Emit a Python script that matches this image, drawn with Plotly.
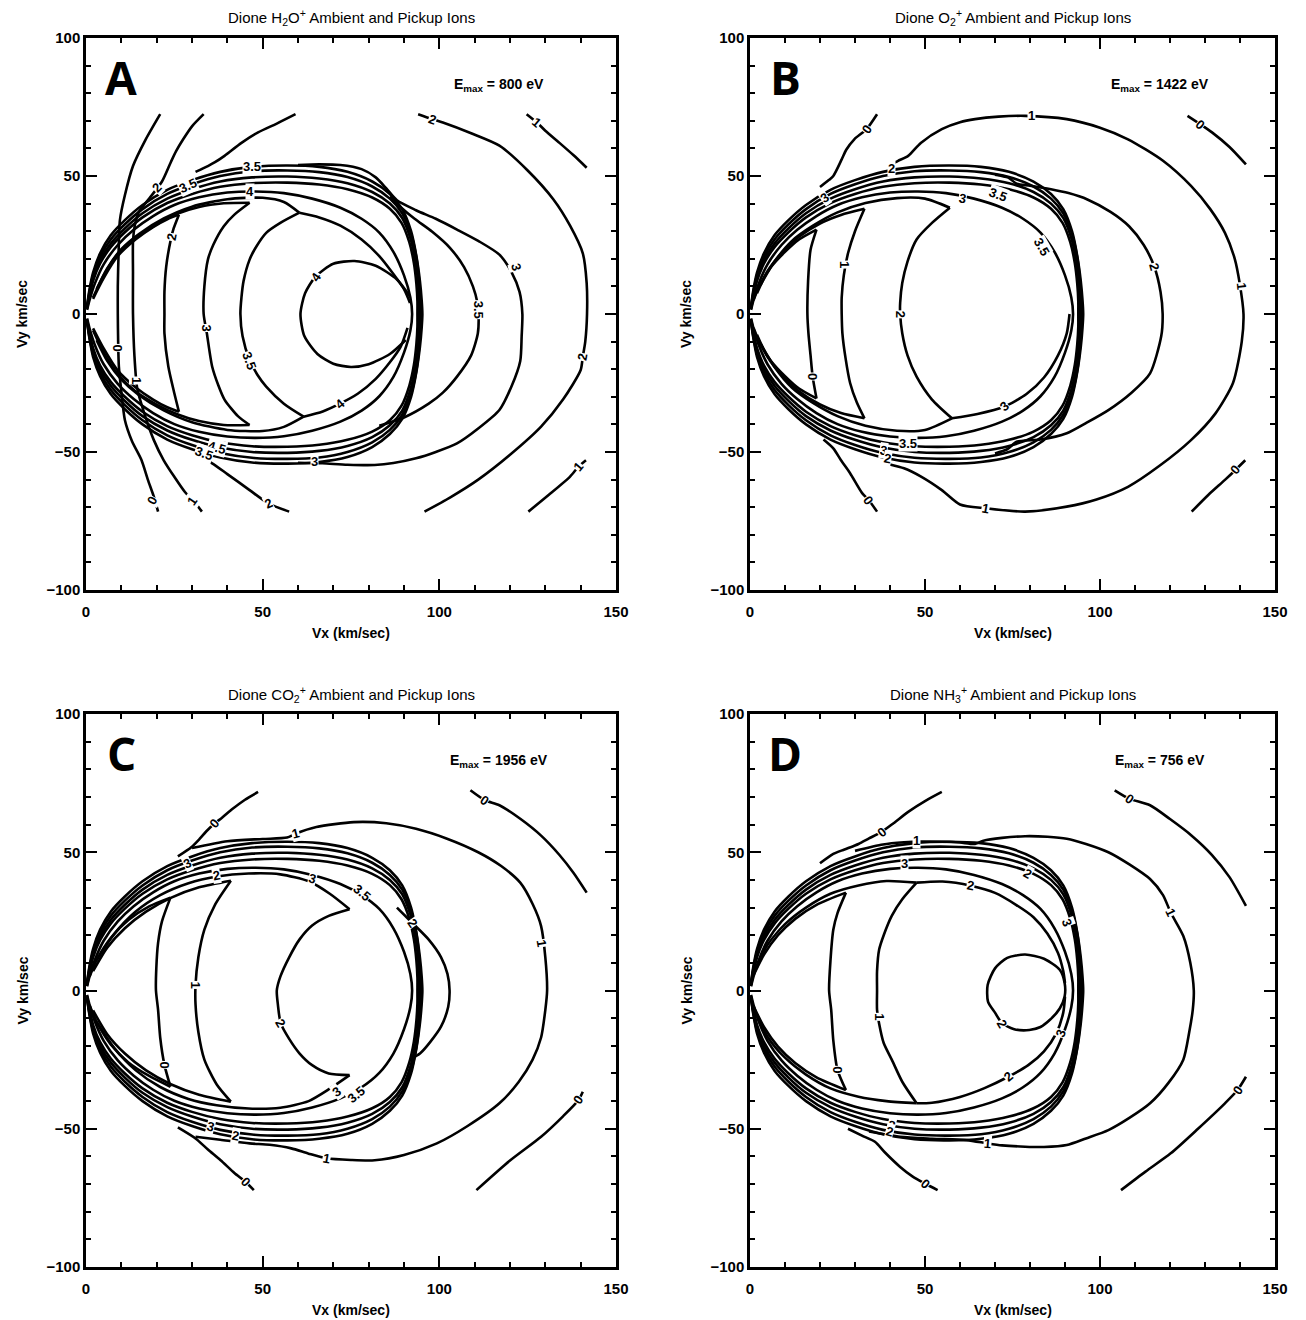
import plotly.graph_objects as go

# page is 1306x1320; the browser puts the plot 8 px in from the top-left corner
PAGE_W, PAGE_H = 1306, 1320
OFF = 8
W, H = PAGE_W - OFF, PAGE_H - OFF

# ---------------- text ----------------
PANEL_IDS = ["A", "B", "C", "D"]
TITLES = ["Dione H<sub>2</sub>O<sup>+</sup> Ambient and Pickup Ions",
          "Dione O<sub>2</sub><sup>+</sup> Ambient and Pickup Ions",
          "Dione CO<sub>2</sub><sup>+</sup> Ambient and Pickup Ions",
          "Dione NH<sub>3</sub><sup>+</sup> Ambient and Pickup Ions"]
EMAX = ["800", "1422", "1956", "756"]
X_TICKS = [0, 50, 100, 150]
Y_TICKS = [-100, -50, 0, 50, 100]

# ---------------- ring-band contours (alike in all panels) ----------------
RING_1 = [(0.3,3),(1,9),(2,15),(4,22),(7,28.5),(11,34),(16,39.5),(23,45),(30,48.5),(38,51.5),(47,53.3),(57,53.8),(66,53.3),(74,51.5),(81,48),(86,43.5),(89.5,38),(92,30),(93.5,21),(94.5,12),(95,5),(95.2,0),(95,-5),(94.5,-12),(93.5,-21),(92,-30),(89.5,-38),(86,-43.5),(81,-48.2),(74,-51.8),(66,-53.6),(57,-54.2),(47,-53.8),(38,-52),(30,-49),(23,-45.5),(16,-40),(11,-34.5),(7,-29),(4,-22.5),(2,-15.5),(1,-9),(0.3,-3)]
RING_2 = [(0.3,2.6),(1,8.2),(2,14),(4,20.8),(7,27),(11,32.5),(16,38),(23,43.5),(30,47),(38,50),(47,51.7),(57,52),(66,51.4),(74,49.6),(81,46.2),(86,41.8),(89.5,36.5),(92,29),(93.5,20.5),(94.3,12),(94.6,5),(94.7,0),(94.6,-5),(94.3,-12),(93.5,-20.5),(92,-29),(89.5,-36.5),(86,-42),(81,-46.5),(74,-50),(66,-52),(57,-52.5),(47,-52.1),(38,-50.4),(30,-47.5),(23,-44),(16,-38.5),(11,-33),(7,-27.5),(4,-21.3),(2,-14.5),(1,-8.5),(0.3,-2.8)]
RING_3 = [(0.3,2.2),(1,7.4),(2,13),(4,19.5),(7,25.5),(11,31),(16,36.5),(23,41.8),(30,45.2),(38,48),(47,49.5),(57,49.8),(66,49.1),(74,47.4),(81,44.2),(86,40),(89.5,34.8),(91.8,27.5),(93.2,19.5),(94,11.5),(94.3,4.8),(94.3,0),(94.3,-4.8),(94,-11.5),(93.2,-19.5),(91.8,-27.5),(89.5,-35),(86,-40.3),(81,-44.6),(74,-47.8),(66,-49.6),(57,-50.3),(47,-50),(38,-48.4),(30,-45.6),(23,-42.2),(16,-37),(11,-31.5),(7,-26),(4,-20),(2,-13.5),(1,-7.8),(0.3,-2.4)]
RING_4 = [(0.3,1.8),(1,6.5),(2,12),(4,18.3),(7,24.2),(11,29.6),(16,35),(23,40.2),(30,43.5),(38,46.1),(47,47.4),(57,47.6),(66,46.9),(74,45.2),(81,42.2),(86,38.1),(89.3,33),(91.5,26),(92.8,18.5),(93.5,11),(93.8,4.5),(93.8,0),(93.8,-4.5),(93.5,-11),(92.8,-18.5),(91.5,-26),(89.3,-33.2),(86,-38.5),(81,-42.6),(74,-45.6),(66,-47.4),(57,-48.1),(47,-47.9),(38,-46.5),(30,-43.9),(23,-40.6),(16,-35.4),(11,-30),(7,-24.6),(4,-18.7),(2,-12.4),(1,-6.8),(0.3,-2)]
RING_5 = [(0.3,1.5),(1,5),(2.5,11),(5,18),(9,25),(13.5,30.5),(19,35.5),(25,39.5),(32,42.3),(40,44),(48,44.4),(56,43.8),(64,41.8),(72,38.5),(78,34.5),(83,29.5),(87,22.5),(90,14),(91.8,6),(92.3,0),(91.8,-6),(90,-14),(87,-22.8),(83,-29.8),(78,-35),(72,-39),(64,-42.3),(56,-44.3),(48,-44.9),(40,-44.4),(32,-42.7),(25,-39.9),(19,-35.9),(13.5,-30.8),(9,-25.3),(5,-18.2),(2.5,-11.2),(1,-5.2),(0.3,-1.6)]
RINGS = [RING_1, RING_2, RING_3, RING_4, RING_5]

# ---------------- panel A (H2O+) ----------------
A_L0 = [(21,72.4),(16.8,63),(13.3,53.6),(11,43),(9.6,34),(9.2,21),(9,10),(9,0),(9.1,-10),(9.3,-19),(10,-28),(11,-38.4),(13,-46),(15.7,-52.9),(17.5,-60),(19.2,-66.2),(20.4,-71.6)]
A_L1 = [(33.3,72.4),(30,68),(27.5,63.3),(25.5,59),(24,55),(21.5,48),(18,42),(15,37),(13.8,32),(13.3,26),(13.3,15),(13.3,0),(13.7,-15),(14.5,-27),(16.5,-36),(19.2,-45.7),(22,-53),(25,-59),(28,-64.5),(31,-68.6),(32.8,-71.6)]
A_L2_TOP = [(59.3,72.4),(54,69),(48.7,65.8),(44,62),(39.2,57.3),(36.5,55),(34.5,53.6),(31,51.5)]
A_L2_BOT = [(32,-51.5),(35.7,-54.1),(40,-58),(46.3,-63.8),(51.6,-68.6),(57.5,-71.6)]
A_C2_TOP = [(2,5.5),(5,13),(9,21),(14,27),(19,31.5),(23,34.3),(26.3,36)]
A_C2_ARC = [(26.3,36),(24.8,31),(24,27),(22.7,17.2),(22.2,8),(22.2,0),(22.2,-7),(23.3,-19),(25,-28.7),(26.3,-35.4)]
A_C2_BOT = [(26.3,-35.4),(23,-33.8),(19,-31),(14,-26.5),(9,-20.5),(5,-12.5),(2,-5.2)]
A_C3_TOP = [(2,6),(5,14),(9,21.8),(14,27.8),(20,32.6),(26,36.4),(32,38.8),(39,40.1),(46.3,40.3)]
A_C3_ARC = [(46.3,40.3),(42,36),(39,31.8),(36,25),(34.5,19.7),(33.5,10),(33.3,0),(34.2,-7),(35.7,-19),(37.5,-26),(39.2,-31),(43,-37),(46.3,-40.2)]
A_C3_BOT = [(46.3,-40.2),(39,-40.2),(32,-38.8),(26,-36.4),(20,-32.8),(14,-28),(9,-21.8),(5,-14),(2,-6)]
A_C35_TOP = [(3,9),(6,16.5),(10,23.5),(15,29),(22,34.6),(30,38.9),(40,41.6),(50,42.1),(56,40.6),(60.4,36.7)]
A_C35_ARC = [(60.4,36.7),(55,33),(51,29.4),(48,24),(46.3,19.7),(44.6,12),(44,6),(43.7,0),(44.3,-8),(46.3,-16.7),(48.5,-22),(51,-26.3),(56,-32.5),(61.6,-37.2)]
A_C35_BOT = [(61.6,-37.2),(56,-40.9),(50,-42.4),(40,-42),(30,-39.2),(22,-34.9),(15,-29.4),(10,-23.8),(6,-17),(3,-9.5)]
A_IN4_TOP = [(60.4,36.7),(66,35),(72,32),(78,27),(83,21),(87,14.5),(90,9),(91.7,4)]
A_IN4_BOT = [(61.6,-37.2),(67,-35.3),(72,-32.4),(77,-28.8),(82,-23.5),(86,-17.5),(89,-12),(91,-5)]
A_C4 = [(91.7,6.3),(88,12.5),(82,17.5),(76,19.2),(70,18.2),(65,13.6),(62,7.5),(60.7,0),(61.8,-8),(65.5,-14.5),(70,-18),(75,-19.2),(80,-18.2),(86,-14.5),(90.5,-9.4)]
A_O35 = [(86,42.5),(89,38.8),(93,34.5),(98,29.8),(103,24),(107,17),(109.5,10),(110.8,4),(111.1,0),(110.9,-7),(109,-15),(105,-22.7),(101,-28.5),(97,-32.5),(90,-37.5),(83,-40.5)]
A_O3 = [(60,54),(66,54.2),(72,54),(78,52.5),(82,49.5),(85,45.5),(88,41.2),(93.4,37.6),(99,34.5),(105,30.6),(111,26.5),(117,21.5),(120.5,15),(122.7,8),(123.5,0),(123.3,-8),(122.9,-17),(120.5,-26),(117,-34.8),(111,-41.5),(105,-46.9),(99,-50),(93.4,-52.3),(87,-54),(81.7,-54.7),(74,-54.6),(66.9,-54.1),(60,-53.9)]
A_O2 = [(94,72.4),(98,70.6),(101,69.4),(109,65.5),(117,61),(125,52),(132.3,41.5),(137,32),(140.6,22),(141.7,11.2),(141.8,0),(141.3,-10),(140.6,-15.5),(140,-20.3),(135,-31),(128.8,-40.8),(120,-51),(111,-60),(103,-66.5),(95.8,-71.6)]
A_O1_TOP = [(124.7,72.4),(127.6,69.4),(130,66.4),(134,62),(138,57.5),(141.7,53)]
A_O1_BOT = [(141.5,-53),(139.4,-55.3),(137,-58.9),(131,-65.5),(125.2,-71.6)]
A_LABELS = [("0",9,-12.4,90),("1",14.5,-24,90),("2",24.3,28,-80),("3",34.2,-5.2,90),("3.5",46.3,-16.7,70),
            ("4",65.2,13.6,-55),("4",72,-32.4,-40),("3",64.6,-53.5,0),("3.5",111,1.5,90),("3",121.7,17.2,75),
            ("2",98,70.6,20),("1",127.6,69.4,40),("2",140.6,-15.5,-80),("1",139.4,-55.3,-50),("0",18.6,-67.4,-60),
            ("1",30,-68,-55),("2",51.6,-68.6,-25),("3.5",47,53.4,0),("3.5",29,46.5,-25),("2",20,46,-45),
            ("4.5",37,-48.3,15),("3.5",33.5,-50.5,20),("4",46.5,44.4,0)]

# ---------------- panel B (O2+) ----------------
B_L0_TL = [(36.3,72.4),(33.3,67),(29.8,63.3),(27.5,59.5),(26.2,56),(23.8,50),(22.6,48.6),(20,46)]
B_L0_BL = [(21,-45.5),(23.8,-48.7),(26,-53),(28.6,-57.7),(32.1,-65),(33.9,-67.4),(36.3,-71.6)]
B_L1 = [(40,54),(42.3,55.5),(45.2,57.3),(48.8,62),(54.8,67),(60,69.5),(64.3,70.6),(71,71.5),(78.6,71.8),(90.5,70.6),(100,67.5),(108,63.3),(118,55.5),(126,46.4),(131.5,38),(135.7,29.4),(138.5,20),(139.9,11.2),(141,0),(140.5,-10),(138,-25),(133,-36),(126,-45.7),(117,-55),(108,-62.6),(99,-67.2),(90.5,-69.8),(78.6,-71.6),(67.3,-70.4),(60,-69),(54.8,-63.8),(49,-59),(44,-55.9),(40,-54.5)]
B_L2 = [(70,50.5),(73.8,49.4),(76.2,47.2),(80,46.5),(86,45.2),(91,43.8),(96.4,41.5),(103,37),(108.3,31.8),(112.5,25),(115.5,17.2),(117.3,8),(117.9,0),(117.5,-8),(114.3,-21.5),(109,-28.5),(102.4,-34.8),(96,-39.5),(90.5,-43.2),(83,-45.5),(76.2,-46.3),(73.5,-49),(70,-50.5)]
B_L0_RT = [(125,71.8),(128.6,68.8),(132,65.8),(137,60.5),(141.7,54.2)]
B_L0_RB = [(141.5,-53),(138.7,-56.5),(135.7,-60.1),(131,-65.5),(126.2,-71.6)]
B_C0_TOP = [(1,5),(3,11),(6,17),(10,22.5),(14,27),(19,30.6)]
B_C0_ARC = [(19,30.6),(17.3,23.3),(16.6,12),(16.4,0),(16.7,-7),(17.3,-15),(17.9,-22.7),(19,-30.6)]
B_C0_BOT = [(19,-30.6),(14,-27),(10,-22.5),(6,-17),(3,-11),(1,-5)]
B_C1_TOP = [(2,7.5),(5,15.5),(9,22),(14,28),(20,32.8),(26,35.9),(32.7,38.1)]
B_C1_ARC = [(32.7,38.1),(30,30),(28,22),(26.8,14),(26.2,6),(26.2,0),(26.4,-7),(27.3,-16),(28.6,-25),(30.5,-32),(32.7,-37.8)]
B_C1_BOT = [(32.7,-37.8),(26,-35.9),(20,-32.8),(14,-28),(9,-22),(5,-15.5),(2,-7.5)]
B_C2_TOP = [(3,10.5),(7,19),(12,26.5),(18,32),(25,36.8),(33,40.2),(42,42),(50,41.8),(57.1,38.5)]
B_C2_ARC = [(57.1,38.5),(52,33),(47.6,27),(45,19),(43.5,11.2),(42.9,4),(42.9,0),(43.5,-7),(45,-15),(47.6,-22.7),(52,-31),(57.7,-37.8)]
B_C2_BOT = [(57.7,-37.8),(50,-42),(42,-42.3),(33,-40.5),(25,-37),(18,-32.2),(12,-26.7),(7,-19.2),(3,-10.7)]
B_IN3_BOT = [(57.7,-37.8),(65,-36.2),(72.6,-33.6),(79,-29),(84,-23),(88,-15),(90.5,-7),(91.3,0)]
B_LABELS = [("0",33.3,67,-55),("1",80.4,71.8,0),("0",128.6,68.8,40),("2",115.5,17.2,75),("1",140.5,10,85),
            ("0",138.7,-56.5,-50),("1",67.3,-70.4,10),("0",33.9,-67.4,55),("2",40.5,52.6,0),("3",21.4,42.2,-35),
            ("3",60.7,41.8,10),("3.5",70.8,43.2,20),("3.5",83.3,24.5,60),("1",26.8,17.8,90),("2",42.9,0,90),
            ("0",17.9,-22.7,90),("3",72.6,-33.6,-40),("3.5",45.2,-46.9,0),("3",38.1,-49.3,10),("2",39.3,-52.3,10)]

# ---------------- panel C (CO2+) ----------------
C_L0_TL = [(48.7,71.8),(45,69),(41.6,65.8),(38.5,62.5),(36.3,60.3),(34,57.5),(32.2,54.9),(29.8,51.8),(26,48.5)]
C_L1 = [(30,51.5),(40,54),(50,54.8),(56.9,55.3),(59.3,56.7),(65.2,59.1),(75.8,60.9),(85,60.5),(93.4,58.5),(102,55),(111,50),(117.5,45),(122.9,39),(126.5,31),(128.8,23.3),(130,12),(130.5,0),(130,-7),(128.8,-17),(126.4,-25),(122.5,-33),(117,-40.8),(108,-49),(99.3,-55.3),(90,-59.5),(81.7,-61.4),(75,-61.3),(68.1,-60.7),(63,-59),(58.1,-57.1),(52,-55.8),(46.3,-55.3),(38,-54),(31,-52.9)]
C_L0_RT = [(108.8,72.4),(112.9,68.8),(117,67),(123,62),(128.8,56),(134,49),(138,42.5),(141.7,35.4)]
C_L0_RB = [(140.6,-36.6),(139.4,-39.6),(135,-45.5),(128.8,-52.9),(120,-61.5),(110.5,-72.2)]
C_L0_BL = [(26,-49.5),(31,-53.5),(34.5,-57.5),(38.1,-61.4),(42,-66),(45.1,-69.2),(47.5,-72.2)]
C_O2 = [(88,30),(92.3,24.5),(97,18.4),(100.5,12),(102.3,6),(102.9,0),(102.5,-6),(100.5,-13),(97.5,-18.5),(94.6,-22.7),(91.7,-25)]
C_C0_TOP = [(1,5),(3,11),(7,19),(12,25.5),(18,30.5),(23.9,33.6)]
C_C0_ARC = [(23.9,33.6),(21.5,25),(20.4,17.2),(19.9,8),(19.8,0),(20.4,-7),(21,-17),(22.2,-26.9),(23.9,-34.8)]
C_C0_BOT = [(23.9,-34.8),(18,-31),(12,-26),(7,-19.5),(3,-11.3),(1,-5.2)]
C_C1_TOP = [(2,7),(6,15.5),(11,22.5),(17,28.5),(24,33.5),(32,37.3),(41,39.7)]
C_C1_ARC = [(41,39.7),(36.5,31),(33.5,22),(31.8,12),(31,2),(31,-5),(31.8,-15),(33.5,-25),(37,-34),(41,-40.2)]
C_C1_BOT = [(41,-40.2),(32,-37.7),(24,-33.9),(17,-28.9),(11,-22.8),(6,-15.8),(2,-7.2)]
C_C2_TOP = [(3,11),(8,20.5),(14,28.5),(21,34.5),(29,38.8),(37,41.2),(46,42.3),(55,42),(63,39.5),(69,35),(74.6,29.4)]
C_C2_ARC = [(74.6,29.4),(68.7,27),(64,23.5),(60.4,18.4),(57.5,12),(55,5),(54,0),(54.3,-5),(55.1,-11.8),(57.5,-17.5),(60.4,-22.7),(64,-27),(68.7,-30),(74.6,-30.6)]
C_C2_BOT = [(74.6,-30.6),(69,-35.5),(63,-40),(55,-42.4),(46,-42.7),(37,-41.5),(29,-39.2),(21,-34.9),(14,-28.8),(8,-20.8),(3,-11.3)]
C_LABELS = [("0",36.3,60.3,-50),("1",59.3,56.7,-15),("0",112.9,68.8,35),("1",128.8,17.2,80),("0",139.4,-39.6,-55),
            ("1",68.1,-60.7,10),("0",45.1,-69.2,45),("2",92.3,24.5,55),("2",55.1,-11.8,60),("1",31,2,90),
            ("0",22.2,-26.9,90),("3",28.6,45.8,-25),("2",36.9,41.5,-10),("3",64,40.6,15),("3.5",78.1,35.4,40),
            ("3",71,-36.5,-35),("3.5",76.5,-37.5,-40),("3",35.1,-49.3,15),("2",42.2,-52.3,10)]

# ---------------- panel D (NH3+) ----------------
D_L0_TL = [(54.8,71.8),(50,68.5),(45.2,64.6),(41,60.5),(37.5,57.3),(34,55),(31,53),(27,51),(23.8,49.4),(20,46)]
D_L1 = [(30,50.5),(38,52.8),(44,53.6),(48.8,53.9),(54.8,53.8),(60,53.5),(64.3,53),(66.7,54.2),(72,55.2),(78.6,55.8),(85,55.6),(90.5,54.9),(96,53),(102.4,50),(108.5,45.5),(114.3,40.3),(118,34.5),(120.2,28.2),(123.8,19.7),(125.8,10),(126.8,0),(126.5,-7),(125.5,-15),(123.8,-25),(119.5,-33.5),(114.3,-40.8),(108.5,-46),(102.4,-50.5),(96,-53.5),(90.5,-55.9),(84,-56.6),(78.6,-56.5),(72,-56),(67.9,-55.3),(61.9,-54.1),(52,-53.6),(42.9,-52.9),(34,-51)]
D_L0_RT = [(104.2,72.4),(108.3,69.4),(114.3,67),(120,62),(126.2,56),(132,49),(137,41),(141.7,30.6)]
D_L0_RB = [(141.7,-31.2),(139.3,-36),(135.7,-40.8),(128,-50),(120.2,-58.9),(113,-65.5),(106,-72.2)]
D_L0_BL = [(28,-50),(32,-52.5),(35.7,-54.7),(38.5,-58.5),(42.9,-63.8),(46.5,-67.3),(50,-69.8),(53.6,-72.2)]
D_C0_TOP = [(1,5.5),(4,13),(8,20),(13,26),(19,31),(27.4,35.4)]
D_C0_ARC = [(27.4,35.4),(25,28),(23.8,22),(23,11),(22.6,0),(23.2,-7),(23.8,-18),(25,-28.7),(27.4,-36)]
D_C0_BOT = [(27.4,-36),(19,-31.4),(13,-26.3),(8,-20.3),(4,-13.2),(1,-5.6)]
D_C1_TOP = [(2,8.5),(5,16.5),(10,24),(16,30),(23,35),(31,38),(39,39.6),(47.6,39)]
D_C1_ARC = [(47.6,39),(43.5,33),(40.5,27),(38.2,20),(36.9,14.8),(36.3,7),(36.3,0),(36.3,-7),(36.9,-12),(38.2,-19),(40.5,-25),(43.5,-33),(47.6,-40.8)]
D_C1_BOT = [(47.6,-40.8),(39,-40),(31,-38.4),(23,-35.4),(16,-30.4),(10,-24.3),(5,-16.7),(2,-8.7)]
D_IN2_TOP = [(47.6,39),(55,39.4),(63.1,37.9),(70,35.3),(76,31),(81,26.5),(85,20.5),(88,13.6),(89.5,7),(90,2.7)]
D_IN2_BOT = [(90,-2.2),(89.5,-8),(87.5,-15.5),(84,-22),(79.5,-27),(73.8,-31.2),(67,-35.3),(60,-38.5),(52,-40.6),(47.6,-40.8)]
D_C2 = [(89.9,2.7),(88.5,7.5),(84,11.5),(78.6,13),(73.5,11.8),(70,8),(67.9,2),(68,-4),(70,-8),(72,-11.8),(75.5,-14),(79.8,-14.3),(83,-13.2),(85.7,-10.6),(88.5,-6.5),(89.9,-2.2),(89.9,2.7)]
D_LABELS = [("0",37.5,57.3,-40),("1",47.6,54.2,0),("0",108.3,69.4,35),("1",120.2,28.2,65),("0",139.3,-36,-55),
            ("1",67.9,-55.3,5),("0",50,-69.8,40),("0",25,-28.7,90),("1",36.9,-9.4,90),("2",72,-11.8,60),
            ("3",44,46,0),("2",63.1,37.9,10),("2",79.2,42.3,30),("3",90.5,24.5,70),("3",88.7,-15.5,-70),
            ("2",73.8,-31.2,-40),("3",40.5,-48.7,15),("2",39.9,-51.1,15)]

PANEL_LINES = [
    RINGS + [A_L0, A_L1, A_L2_TOP, A_L2_BOT, A_C2_TOP, A_C2_ARC, A_C2_BOT, A_C3_TOP, A_C3_ARC, A_C3_BOT,
             A_C35_TOP, A_C35_ARC, A_C35_BOT, A_IN4_TOP, A_IN4_BOT, A_C4, A_O35, A_O3, A_O2,
             A_O1_TOP, A_O1_BOT],
    RINGS + [B_L0_TL, B_L0_BL, B_L1, B_L2, B_L0_RT, B_L0_RB, B_C0_TOP, B_C0_ARC, B_C0_BOT,
             B_C1_TOP, B_C1_ARC, B_C1_BOT, B_C2_TOP, B_C2_ARC, B_C2_BOT, B_IN3_BOT],
    RINGS + [C_L0_TL, C_L1, C_L0_RT, C_L0_RB, C_L0_BL, C_O2, C_C0_TOP, C_C0_ARC, C_C0_BOT,
             C_C1_TOP, C_C1_ARC, C_C1_BOT, C_C2_TOP, C_C2_ARC, C_C2_BOT],
    RINGS + [D_L0_TL, D_L1, D_L0_RT, D_L0_RB, D_L0_BL, D_C0_TOP, D_C0_ARC, D_C0_BOT,
             D_C1_TOP, D_C1_ARC, D_C1_BOT, D_IN2_TOP, D_IN2_BOT, D_C2],
]
PANEL_LABELS = [A_LABELS, B_LABELS, C_LABELS, D_LABELS]

# ---------------- layout geometry (pixels in the 1306x1320 page) ----------------
X_DOMS_PX = [(86, 616), (750, 1275), (86, 616), (750, 1275)]
Y_DOMS_PX = [(38, 590), (38, 590), (714, 1267), (714, 1267)]


def px_x(p):
    return (p - OFF) / W


def px_y(p):
    return 1 - (p - OFF) / H


FONT = "Liberation Sans, Arial, sans-serif"
fig = go.Figure()
annotations = []

for i in range(4):
    s = "" if i == 0 else str(i + 1)
    xa, ya = "x" + s, "y" + s
    for pts in PANEL_LINES[i]:
        fig.add_trace(go.Scatter(
            x=[p[0] for p in pts], y=[p[1] for p in pts], mode="lines",
            line=dict(color="black", width=2.6, shape="spline", smoothing=0.7),
            xaxis=xa, yaxis=ya, hoverinfo="skip", showlegend=False))
    for (txt, lx, ly, ang) in PANEL_LABELS[i]:
        annotations.append(dict(x=lx, y=ly, xref=xa, yref=ya, text=txt, showarrow=False,
                                textangle=ang, bgcolor="white", borderpad=0,
                                xanchor="center", yanchor="middle",
                                font=dict(family=FONT, size=13, color="black", weight="bold")))
    x0, x1 = X_DOMS_PX[i]
    yt, yb = Y_DOMS_PX[i]
    xdom = [px_x(x0), px_x(x1)]
    ydom = [px_y(yb), px_y(yt)]
    axcommon = dict(showline=True, linewidth=2.5, linecolor="black", mirror="ticks",
                    ticks="inside", ticklen=11, tickwidth=2, tickcolor="black",
                    showgrid=False, zeroline=False, automargin=False,
                    tickfont=dict(family=FONT, size=15, color="black", weight="bold"))
    fig.layout["xaxis" + s] = dict(axcommon, domain=xdom, range=[0, 150], tickvals=X_TICKS,
                                   anchor=ya, ticklabelstandoff=6,
                                   minor=dict(ticks="inside", ticklen=5, tickwidth=2,
                                              tickcolor="black", dtick=10, tick0=0))
    fig.layout["yaxis" + s] = dict(axcommon, domain=ydom, range=[-100, 100], tickvals=Y_TICKS,
                                   anchor=xa,
                                   minor=dict(ticks="inside", ticklen=5, tickwidth=2,
                                              tickcolor="black", dtick=10, tick0=0))
    cx = px_x((x0 + x1) / 2)
    # panel title
    annotations.append(dict(x=cx, y=px_y(yt - 20), xref="paper", yref="paper", text=TITLES[i],
                            showarrow=False, xanchor="center", yanchor="middle",
                            font=dict(family=FONT, size=15, color="black")))
    # x axis title
    annotations.append(dict(x=cx, y=px_y(yb + 43), xref="paper", yref="paper",
                            text="Vx (km/sec)", showarrow=False, xanchor="center", yanchor="middle",
                            font=dict(family=FONT, size=14, color="black", weight="bold")))
    # y axis title
    annotations.append(dict(x=px_x(x0 - 64), y=px_y((yt + yb) / 2), xref="paper", yref="paper",
                            text="Vy km/sec", showarrow=False, textangle=-90,
                            xanchor="center", yanchor="middle",
                            font=dict(family=FONT, size=14, color="black", weight="bold")))
    # panel letter
    annotations.append(dict(x=10, y=86, xref=xa, yref=ya, text="<b>" + PANEL_IDS[i] + "</b>",
                            showarrow=False, xanchor="center", yanchor="middle",
                            font=dict(family="Open Sans, Liberation Sans, sans-serif", size=46,
                                      color="black")))
    # Emax
    annotations.append(dict(x=117, y=83, xref=xa, yref=ya,
                            text="E<sub>max</sub> = " + EMAX[i] + " eV", showarrow=False,
                            xanchor="center", yanchor="middle",
                            font=dict(family=FONT, size=14, color="black", weight="bold")))

fig.update_layout(width=W, height=H, margin=dict(l=0, r=0, t=0, b=0, autoexpand=False),
                  paper_bgcolor="white", plot_bgcolor="white",
                  annotations=annotations, showlegend=False)
fig.write_html("out.html")
